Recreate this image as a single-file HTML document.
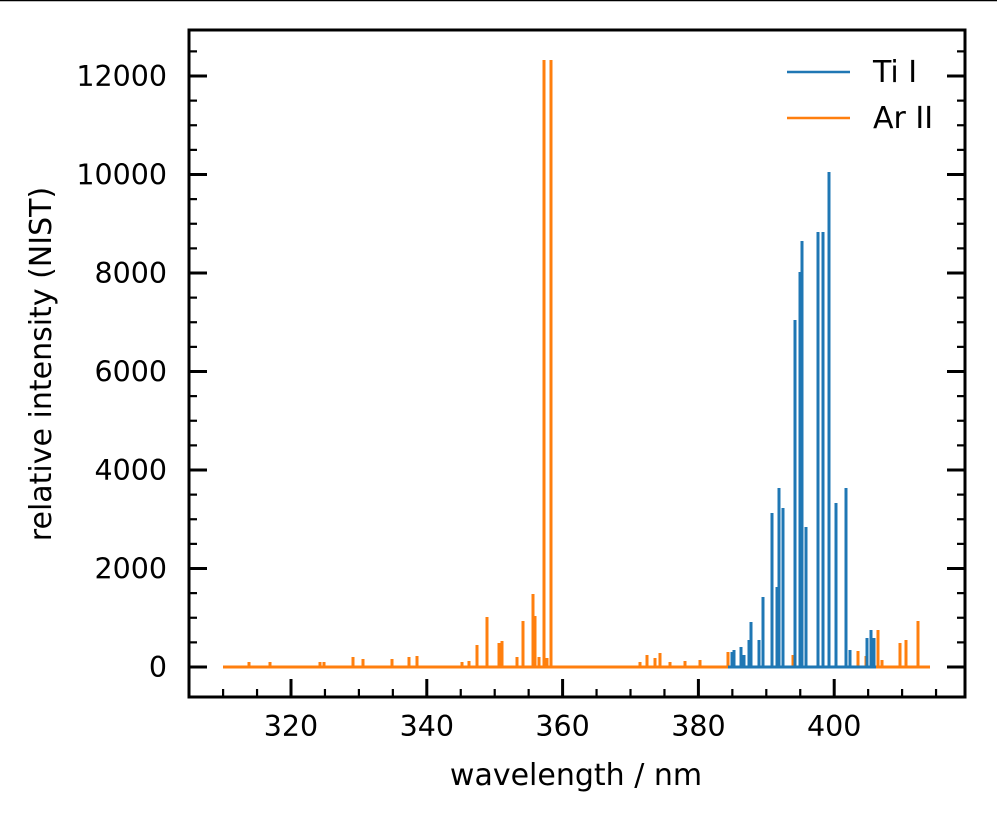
<!DOCTYPE html>
<html><head><meta charset="utf-8"><style>
html,body{margin:0;padding:0;background:#fff;}
svg{display:block;font-family:"DejaVu Sans","Liberation Sans",sans-serif;}
</style></head><body>
<svg id="s" width="997" height="820" viewBox="0 0 997 820" xmlns="http://www.w3.org/2000/svg">
<rect width="997" height="820" fill="#fff"/>
<line x1="0" y1="0.5" x2="997" y2="0.5" stroke="#000" stroke-width="1.5"/>
<g id="data"></g>
<g id="ticks" stroke="#000"></g>
<rect x="189" y="30" width="776" height="667" fill="none" stroke="#000" stroke-width="3"/>
<g font-size="28.5" fill="#000" id="labels"></g>
<text x="576" y="785" font-size="30" text-anchor="middle">wavelength / nm</text>
<text transform="translate(51,364) rotate(-90)" font-size="30" text-anchor="middle">relative intensity (NIST)</text>
<line x1="787" y1="72" x2="850" y2="72" stroke="#1f77b4" stroke-width="2.5"/>
<line x1="787" y1="118" x2="850" y2="118" stroke="#ff7f0e" stroke-width="2.5"/>
<text x="873" y="82" font-size="30">Ti I</text>
<text x="873" y="128" font-size="30">Ar II</text>
</svg>
<script>
var NS="http://www.w3.org/2000/svg";
function el(p,t,a){var e=document.createElementNS(NS,t);for(var k in a)e.setAttribute(k,a[k]);p.appendChild(e);return e;}
var T=document.getElementById('ticks'),L=document.getElementById('labels'),D=document.getElementById('data');
function X(nm){return 291+(nm-320)*6.79;}
function Y(v){return 667-v*0.04925;}
var MJ=18,MN=8;
for(var nm=310;nm<=415;nm+=5){var x=X(nm),maj=nm%20==0;
 el(T,'line',{x1:x,y1:697,x2:x,y2:697-(maj?MJ:MN),'stroke-width':maj?3:2.2});
 if(maj){var t=el(L,'text',{x:x,y:736,'text-anchor':'middle'});t.textContent=nm;}}
for(var v=0;v<=12500;v+=500){var y=Y(v),maj=v%2000==0;
 el(T,'line',{x1:189,y1:y,x2:189+(maj?MJ:MN),y2:y,'stroke-width':maj?3:2.2});
 el(T,'line',{x1:965,y1:y,x2:965-(maj?MJ:MN),y2:y,'stroke-width':maj?3:2.2});
 if(maj){var t=el(L,'text',{x:167,y:y+10,'text-anchor':'end'});t.textContent=v;}}
function spikes(list,col,x0,x1){
 var d='M'+x0+' 667 L'+x1+' 667 ';
 list.forEach(function(p){d+='M'+p[0]+' 667 L'+p[0]+' '+p[1]+' ';});
 el(D,'path',{d:d,stroke:col,'stroke-width':3,fill:'none','stroke-linejoin':'round'});
}
var orange=[[249,662],[270,662],[320,662],[324,662],[353,657],[363,659],[392,659],[409,657],[417,656],[462,662],[469,661],[477,645],[487,617],[499,643],[502,641],[517,657],[523,621],[533,594],[535,616],[539,657],[544,60],[551,60],[547,658],[640,662],[647,655],[655,658],[660,653],[670,662],[685,661],[700,660],[728,652],[741,656],[793,655],[858,651],[866,656],[878,630],[882,660],[900,643],[906,640],[918,621]];
var blue=[[732,652],[734,650],[741,647],[744,655],[749,640],[751,622],[759,640],[763,597],[772,513],[777,587],[779,488],[783,508],[795,320],[795,385],[800,272],[802,241],[806,527],[818,232],[818,500],[823,232],[829,172],[836,503],[846,488],[850,650],[867,638],[871,630],[874,638]];
spikes(orange,'#ff7f0e',223,930);
spikes(blue,'#1f77b4',728,876);
</script>
</body></html>
